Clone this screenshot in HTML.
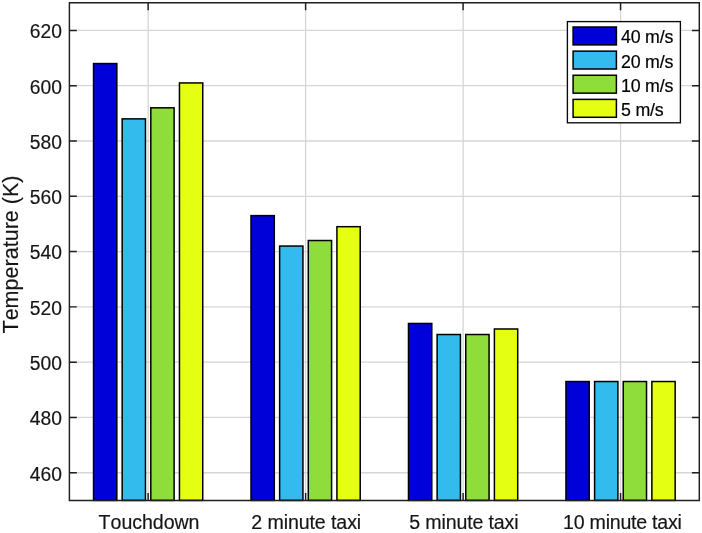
<!DOCTYPE html>
<html><head><meta charset="utf-8"><style>
html,body{margin:0;padding:0;background:#fff;width:702px;height:533px;overflow:hidden;font-kerning:none;font-family:"Liberation Sans", sans-serif;}
</style></head><body>
<svg width="702" height="533" viewBox="0 0 702 533" style="position:absolute;left:0;top:0;will-change:transform"><rect x="0" y="0" width="702" height="533" fill="#fff"/><path d="M148.14 2.75V500.4M305.61 2.75V500.4M463.09 2.75V500.4M620.56 2.75V500.4M69.4 472.75H699.3M69.4 417.46H699.3M69.4 362.16H699.3M69.4 306.87H699.3M69.4 251.57H699.3M69.4 196.28H699.3M69.4 140.99H699.3M69.4 85.69H699.3M69.4 30.40H699.3" stroke="#d6d6d6" stroke-width="1.3" fill="none"/><rect x="93.53" y="63.57" width="23.30" height="436.83" fill="#0000d9" stroke="#000" stroke-width="1.5"/><rect x="122.17" y="118.87" width="23.30" height="381.53" fill="#33bbee" stroke="#000" stroke-width="1.5"/><rect x="150.81" y="107.81" width="23.30" height="392.59" fill="#8fdd3b" stroke="#000" stroke-width="1.5"/><rect x="179.45" y="82.93" width="23.30" height="417.47" fill="#e5ff12" stroke="#000" stroke-width="1.5"/><rect x="251.00" y="215.63" width="23.30" height="284.77" fill="#0000d9" stroke="#000" stroke-width="1.5"/><rect x="279.64" y="246.05" width="23.30" height="254.35" fill="#33bbee" stroke="#000" stroke-width="1.5"/><rect x="308.28" y="240.52" width="23.30" height="259.88" fill="#8fdd3b" stroke="#000" stroke-width="1.5"/><rect x="336.92" y="226.69" width="23.30" height="273.71" fill="#e5ff12" stroke="#000" stroke-width="1.5"/><rect x="408.48" y="323.46" width="23.30" height="176.94" fill="#0000d9" stroke="#000" stroke-width="1.5"/><rect x="437.12" y="334.52" width="23.30" height="165.88" fill="#33bbee" stroke="#000" stroke-width="1.5"/><rect x="465.76" y="334.52" width="23.30" height="165.88" fill="#8fdd3b" stroke="#000" stroke-width="1.5"/><rect x="494.40" y="328.99" width="23.30" height="171.41" fill="#e5ff12" stroke="#000" stroke-width="1.5"/><rect x="565.95" y="381.52" width="23.30" height="118.88" fill="#0000d9" stroke="#000" stroke-width="1.5"/><rect x="594.59" y="381.52" width="23.30" height="118.88" fill="#33bbee" stroke="#000" stroke-width="1.5"/><rect x="623.23" y="381.52" width="23.30" height="118.88" fill="#8fdd3b" stroke="#000" stroke-width="1.5"/><rect x="651.87" y="381.52" width="23.30" height="118.88" fill="#e5ff12" stroke="#000" stroke-width="1.5"/><path d="M69.4 2.75H699.3V500.4H69.4ZM148.14 500.4v-7.4M148.14 2.75v7.4M305.61 500.4v-7.4M305.61 2.75v7.4M463.09 500.4v-7.4M463.09 2.75v7.4M620.56 500.4v-7.4M620.56 2.75v7.4M69.4 472.75h7.4M699.3 472.75h-7.4M69.4 417.46h7.4M699.3 417.46h-7.4M69.4 362.16h7.4M699.3 362.16h-7.4M69.4 306.87h7.4M699.3 306.87h-7.4M69.4 251.57h7.4M699.3 251.57h-7.4M69.4 196.28h7.4M699.3 196.28h-7.4M69.4 140.99h7.4M699.3 140.99h-7.4M69.4 85.69h7.4M699.3 85.69h-7.4M69.4 30.40h7.4M699.3 30.40h-7.4" stroke="#1f1f1f" stroke-width="1.45" fill="none"/><text x="62.0" y="480.65" font-family="Liberation Sans, sans-serif" stroke-width="0.18" font-size="19.3" fill="#161616" stroke="#161616" text-anchor="end">460</text><text x="62.0" y="425.36" font-family="Liberation Sans, sans-serif" stroke-width="0.18" font-size="19.3" fill="#161616" stroke="#161616" text-anchor="end">480</text><text x="62.0" y="370.06" font-family="Liberation Sans, sans-serif" stroke-width="0.18" font-size="19.3" fill="#161616" stroke="#161616" text-anchor="end">500</text><text x="62.0" y="314.77" font-family="Liberation Sans, sans-serif" stroke-width="0.18" font-size="19.3" fill="#161616" stroke="#161616" text-anchor="end">520</text><text x="62.0" y="259.47" font-family="Liberation Sans, sans-serif" stroke-width="0.18" font-size="19.3" fill="#161616" stroke="#161616" text-anchor="end">540</text><text x="62.0" y="204.18" font-family="Liberation Sans, sans-serif" stroke-width="0.18" font-size="19.3" fill="#161616" stroke="#161616" text-anchor="end">560</text><text x="62.0" y="148.89" font-family="Liberation Sans, sans-serif" stroke-width="0.18" font-size="19.3" fill="#161616" stroke="#161616" text-anchor="end">580</text><text x="62.0" y="93.59" font-family="Liberation Sans, sans-serif" stroke-width="0.18" font-size="19.3" fill="#161616" stroke="#161616" text-anchor="end">600</text><text x="62.0" y="38.30" font-family="Liberation Sans, sans-serif" stroke-width="0.18" font-size="19.3" fill="#161616" stroke="#161616" text-anchor="end">620</text><text x="149.04" y="528.6" font-family="Liberation Sans, sans-serif" stroke-width="0.18" font-size="19.6" letter-spacing="-0.05" fill="#161616" stroke="#161616" text-anchor="middle">Touchdown</text><text x="306.21" y="528.6" font-family="Liberation Sans, sans-serif" stroke-width="0.18" font-size="19.6" letter-spacing="-0.1" fill="#161616" stroke="#161616" text-anchor="middle">2 minute taxi</text><text x="463.89" y="528.6" font-family="Liberation Sans, sans-serif" stroke-width="0.18" font-size="19.6" letter-spacing="-0.15" fill="#161616" stroke="#161616" text-anchor="middle">5 minute taxi</text><text x="622.36" y="528.6" font-family="Liberation Sans, sans-serif" stroke-width="0.18" font-size="19.6" letter-spacing="-0.25" fill="#161616" stroke="#161616" text-anchor="middle">10 minute taxi</text><text transform="translate(18.1 254.5) rotate(-90)" x="0" y="0" font-family="Liberation Sans, sans-serif" stroke-width="0.18" font-size="21.55" fill="#161616" stroke="#161616" text-anchor="middle">Temperature (K)</text><rect x="567.4" y="21.6" width="113" height="101.2" fill="#fff" stroke="#0a0a0a" stroke-width="1.35"/><rect x="573.1" y="27.00" width="43.3" height="17.9" fill="#0000d9" stroke="#000" stroke-width="1.5"/><text x="621" y="43.40" font-family="Liberation Sans, sans-serif" stroke-width="0.18" font-size="17.8" letter-spacing="-0.2" fill="#000" stroke="#000">40 m/s</text><rect x="573.1" y="51.13" width="43.3" height="17.9" fill="#33bbee" stroke="#000" stroke-width="1.5"/><text x="621" y="67.53" font-family="Liberation Sans, sans-serif" stroke-width="0.18" font-size="17.8" letter-spacing="-0.2" fill="#000" stroke="#000">20 m/s</text><rect x="573.1" y="75.26" width="43.3" height="17.9" fill="#8fdd3b" stroke="#000" stroke-width="1.5"/><text x="621" y="91.66" font-family="Liberation Sans, sans-serif" stroke-width="0.18" font-size="17.8" letter-spacing="-0.2" fill="#000" stroke="#000">10 m/s</text><rect x="573.1" y="99.39" width="43.3" height="17.9" fill="#e5ff12" stroke="#000" stroke-width="1.5"/><text x="621" y="115.79" font-family="Liberation Sans, sans-serif" stroke-width="0.18" font-size="17.8" letter-spacing="-0.2" fill="#000" stroke="#000">5 m/s</text></svg>
</body></html>
